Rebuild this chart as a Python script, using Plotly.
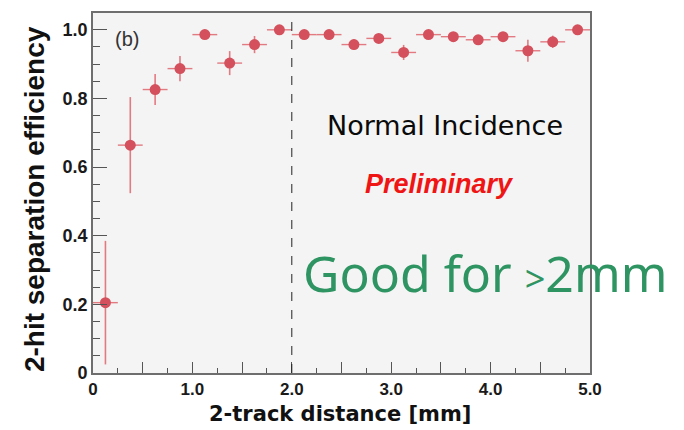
import plotly.graph_objects as go

# Two-track separation measurement: bin centres [mm], efficiency and errors
distance_mm = [0.125, 0.375, 0.625, 0.875, 1.125, 1.375, 1.625, 1.875,
               2.125, 2.375, 2.625, 2.875, 3.125, 3.375, 3.625, 3.875,
               4.125, 4.375, 4.625, 4.875]
efficiency = [0.205, 0.664, 0.826, 0.887, 0.986, 0.903, 0.957, 1.000,
              0.986, 0.986, 0.957, 0.975, 0.934, 0.986, 0.980, 0.971,
              0.980, 0.939, 0.965, 1.000]
eff_err = [0.180, 0.140, 0.045, 0.037, 0.010, 0.035, 0.025, 0.006,
           0.010, 0.010, 0.015, 0.010, 0.022, 0.008, 0.010, 0.010,
           0.010, 0.032, 0.018, 0.006]
bin_half_width = [0.125] * len(distance_mm)

x_tick_vals = [0, 0.5, 1.0, 1.5, 2.0, 2.5, 3.0, 3.5, 4.0, 4.5, 5.0]
x_tick_text = ["0", "", "1.0", "", "2.0", "", "3.0", "", "4.0", "", "5.0"]
y_tick_vals = [0, 0.2, 0.4, 0.6, 0.8, 1.0]
y_tick_text = ["0", "0.2", "0.4", "0.6", "0.8", "1.0"]

marker_red = "#d4505c"
bar_red = "#e27a82"

fig = go.Figure()
fig.add_trace(go.Scatter(
    x=distance_mm, y=efficiency, mode="markers",
    marker=dict(color=marker_red, size=11, line=dict(width=0)),
    error_y=dict(type="data", array=eff_err, color=bar_red, thickness=1.6, width=0),
    error_x=dict(type="data", array=bin_half_width, color=bar_red, thickness=1.4, width=0),
    showlegend=False,
))

# vertical cut at 2 mm
fig.add_shape(type="line", x0=2.0, x1=2.0, xref="x", y0=0, y1=1, yref="paper",
              line=dict(color="#222222", width=1, dash="dash"))

fig.update_xaxes(
    range=[0, 5], tickmode="array", tickvals=x_tick_vals, ticktext=x_tick_text,
    ticks="inside", ticklen=11, tickwidth=1.2, tickcolor="#555555",
    minor=dict(dtick=0.25, tick0=0, ticks="inside", ticklen=5, tickwidth=1, tickcolor="#555555"),
    showgrid=False, zeroline=False, showline=True, mirror=True,
    linecolor="#6e6e6e", linewidth=1.6,
    tickfont=dict(family="Liberation Sans", size=17, color="#1a1a1a", weight="bold"),
)
fig.update_yaxes(
    range=[0, 1.049], tickmode="array", tickvals=y_tick_vals, ticktext=y_tick_text,
    ticks="inside", ticklen=14, tickwidth=1.2, tickcolor="#555555",
    minor=dict(dtick=0.05, tick0=0, ticks="inside", ticklen=7, tickwidth=1, tickcolor="#555555"),
    showgrid=False, zeroline=False, showline=True, mirror=True,
    linecolor="#6e6e6e", linewidth=1.6,
    tickfont=dict(family="Liberation Sans", size=18, color="#1a1a1a", weight="bold"),
)

annotations = [
    # axis titles
    dict(text="<b>2-track distance [mm]</b>", xref="paper", yref="paper",
         x=0.497, y=-0.114, xanchor="center", yanchor="middle", showarrow=False,
         font=dict(family="DejaVu Sans", size=21, color="#111111")),
    dict(text="<b>2-hit separation efficiency</b>", xref="paper", yref="paper",
         x=-0.118, y=0.484, xanchor="center", yanchor="middle", textangle=-90,
         showarrow=False, font=dict(family="Liberation Sans", size=28, color="#111111")),
    # in-plot labels
    dict(text="(b)", xref="x", yref="y", x=0.34, y=0.972, showarrow=False,
         xanchor="center", yanchor="middle",
         font=dict(family="Liberation Sans", size=20, color="#333333")),
    dict(text="Normal Incidence", xref="x", yref="y", x=3.545, y=0.722,
         showarrow=False, xanchor="center", yanchor="middle",
         font=dict(family="DejaVu Sans", size=27, color="#0a0a0a")),
    dict(text="<b><i>Preliminary</i></b>", xref="x", yref="y", x=3.49, y=0.552,
         showarrow=False, xanchor="center", yanchor="middle",
         font=dict(family="Liberation Sans", size=27, color="#f01515")),
    dict(text="Good for <span style=\"font-size:36px\">&gt;</span>2mm",
         xref="x", yref="y", x=3.94, y=0.29, showarrow=False,
         xanchor="center", yanchor="middle",
         font=dict(family="Noto Sans", size=50, color="#2e9462")),
]

fig.update_layout(
    width=684, height=430,
    margin=dict(l=93, r=94, t=11, b=57),
    paper_bgcolor="white", plot_bgcolor="#f4f4f4",
    annotations=annotations,
)

fig.write_html("out.html")
